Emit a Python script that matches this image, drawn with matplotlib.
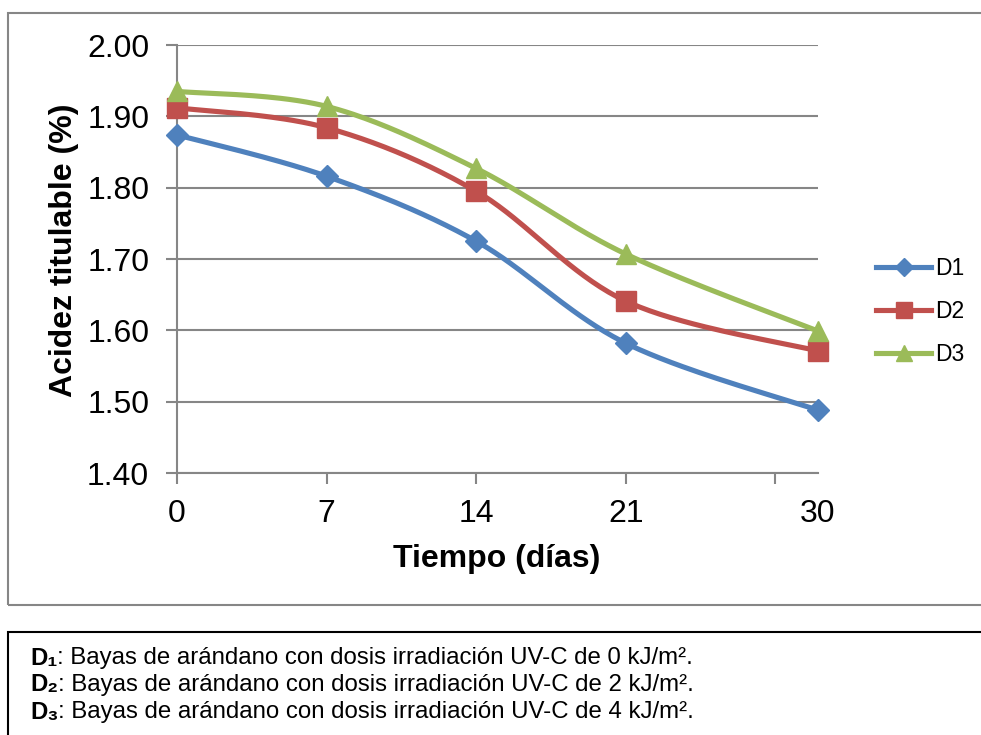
import matplotlib.pyplot as plt
import numpy as np
from matplotlib.lines import Line2D
from matplotlib.patches import Rectangle

plt.rcParams['font.family'] = ['Liberation Sans', 'DejaVu Sans']

# tiempo de almacenamiento (días) y acidez titulable (%)
dias = [0, 7, 14, 21, 30]
d1 = [1.874, 1.816, 1.725, 1.582, 1.488]
d2 = [1.912, 1.884, 1.795, 1.641, 1.571]
d3 = [1.935, 1.914, 1.827, 1.707, 1.599]

series = [
    ('D1', d1, '#4F81BD', 'D', 11),
    ('D2', d2, '#C0504D', 's', 14),
    ('D3', d3, '#9BBB59', '^', 14),
]

notas = [
    ('D₁', ': Bayas de arándano con dosis irradiación UV-C de 0 kJ/m².'),
    ('D₂', ': Bayas de arándano con dosis irradiación UV-C de 2 kJ/m².'),
    ('D₃', ': Bayas de arándano con dosis irradiación UV-C de 4 kJ/m².'),
]


def suavizar(x, y, n=40):
    """ Curva suavizada tipo Catmull-Rom con segmentos Bezier """
    x = np.asarray(x, float)
    y = np.asarray(y, float)
    px = np.concatenate([[x[0]], x, [x[-1]]])
    py = np.concatenate([[y[0]], y, [y[-1]]])
    xs, ys = [], []
    t = np.linspace(0, 1, n)
    for i in range(1, len(px) - 2):
        p0 = np.array([px[i], py[i]])
        p3 = np.array([px[i + 1], py[i + 1]])
        p1 = p0 + (np.array([px[i + 1], py[i + 1]]) - np.array([px[i - 1], py[i - 1]])) / 6
        p2 = p3 - (np.array([px[i + 2], py[i + 2]]) - np.array([px[i], py[i]])) / 6
        b = ((1 - t) ** 3)[:, None] * p0 + (3 * (1 - t) ** 2 * t)[:, None] * p1 \
            + (3 * (1 - t) * t ** 2)[:, None] * p2 + (t ** 3)[:, None] * p3
        xs.extend(b[:, 0])
        ys.extend(b[:, 1])
    return xs, ys


fig = plt.figure(figsize=(9.81, 7.35), dpi=100)
ax = fig.add_axes([177 / 981, 1 - 473 / 735, (818 - 177) / 981, (473 - 45) / 735])

gris = '#868686'
for nombre, vals, col, mk, ms in series:
    sx, sy = suavizar(dias, vals)
    ax.plot(sx, sy, color=col, lw=3.7, solid_capstyle='round', zorder=3)
    ax.plot(dias, vals, linestyle='none', marker=mk, color=col, markersize=ms, zorder=4,
            clip_on=False)

ax.set_xlim(0, 30)
ax.set_ylim(1.40, 2.00)
ax.set_yticks(np.arange(1.40, 2.001, 0.10))
ax.set_yticklabels(['%.2f' % v for v in np.arange(1.40, 2.001, 0.10)], fontsize=23)
# marcas cada 7 días; la etiqueta del día 30 va como tick menor sin marca
ax.set_xticks([0, 7, 14, 21, 28])
ax.set_xticklabels(['0', '7', '14', '21', ''], fontsize=23)
ax.set_xticks([30], minor=True)
ax.set_xticklabels(['30'], minor=True, fontsize=23)
ax.tick_params(axis='x', which='minor', length=0, pad=19)
ax.tick_params(axis='x', which='major', length=8, width=1.5, color=gris, pad=11)
ax.tick_params(axis='y', length=8, width=1.5, color=gris, pad=12)
ax.yaxis.grid(True, color=gris, lw=1.5)
ax.set_axisbelow(True)
for s in ['top', 'right']:
    ax.spines[s].set_visible(False)
for s in ['left', 'bottom']:
    ax.spines[s].set_color(gris)
    ax.spines[s].set_linewidth(1.5)

ax.set_xlabel('Tiempo (días)', fontsize=23, fontweight='bold')
ax.set_ylabel('Acidez titulable (%)', fontsize=23, fontweight='bold')
ax.xaxis.set_label_coords(0.499, -0.2)
ax.yaxis.set_label_coords(-0.176, 0.52)
ax.xaxis.label.set_va('center')
ax.yaxis.label.set_va('center')

handles = [Line2D([], [], color=c, lw=3.7, marker=m, markersize=ms * 0.82)
           for _, _, c, m, ms in series]
fig.legend(handles, [s[0] for s in series], loc='upper left',
           bbox_to_anchor=(865 / 981, 1 - 246 / 735), frameon=False, fontsize=16.5,
           handlelength=2.4, handletextpad=0.15, labelspacing=0.86, borderpad=0)

# marco del gráfico y recuadro de la leyenda inferior
fig.patches.append(Rectangle((8 / 981, 1 - 605 / 735), 1.0, (605 - 13) / 735,
                             transform=fig.transFigure, fill=False, edgecolor=gris, lw=1.5))
fig.patches.append(Rectangle((8 / 981, -0.1), 1.0, 0.1 + (735 - 632) / 735,
                             transform=fig.transFigure, fill=False, edgecolor='black', lw=1.5))

for i, (clave, txt) in enumerate(notas):
    yc = 1 - (658 + i * 27) / 735
    t1 = fig.text(30 / 981, yc, clave, fontsize=17.3, fontweight='bold', va='center')
    fig.add_artist(plt.Annotation(txt, xy=(1, 0.5), xycoords=t1, va='center',
                                  ha='left', fontsize=17.3))

fig.savefig('out.png', dpi=100)
